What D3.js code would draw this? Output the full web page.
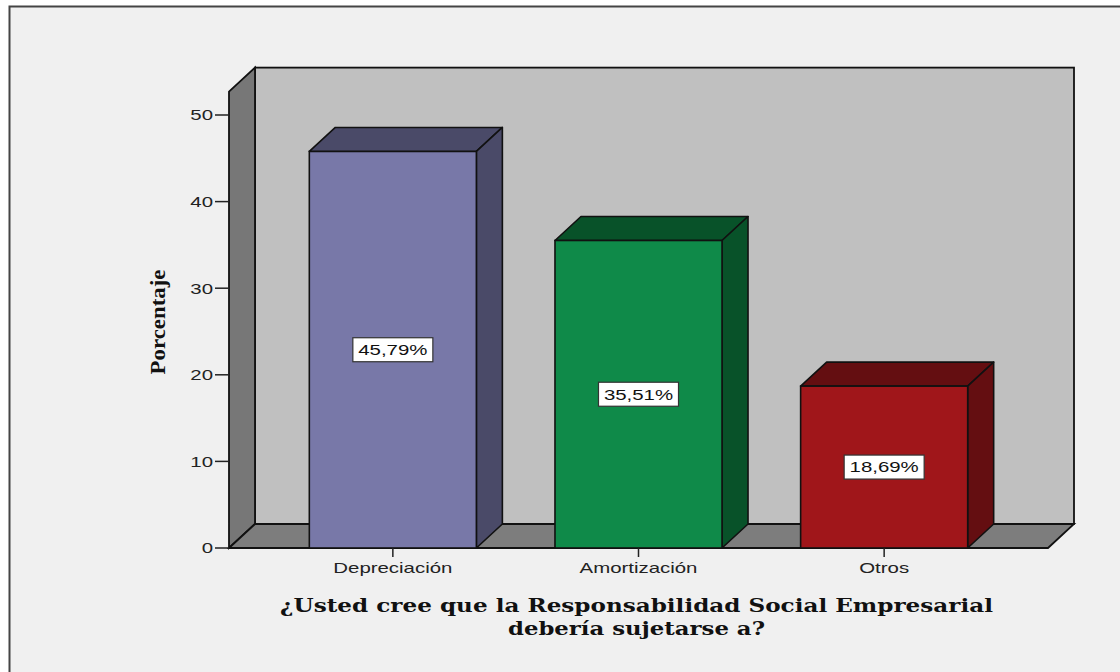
<!DOCTYPE html>
<html>
<head>
<meta charset="utf-8">
<script src="https://cdn.jsdelivr.net/npm/d3@7"></script>
<style>
html,body{margin:0;padding:0;background:#ffffff;}
svg{display:block;}
</style>
</head>
<body>
<svg id="chart" width="1120" height="672"></svg>
<script>
// ---- data ----
const categories = ["Depreciación", "Amortización", "Otros"];
const values = [45.79, 35.51, 18.69];
const valueLabels = ["45,79%", "35,51%", "18,69%"];
const yTicks = [0, 10, 20, 30, 40, 50];
const frontColors = ["#7878a8", "#0f8a49", "#a0161a"];
const darkColors = ["#4a4a68", "#085229", "#640e11"];
const xTitleLines = ["¿Usted cree que la Responsabilidad Social Empresarial", "debería sujetarse a?"];
const yTitle = "Porcentaje";

// ---- layout ----
const svg = d3.select("#chart");
const floorY = 548, left = 229, right = 1048;
const dx = 26, dy = 24;
const wallTopValue = 52.7;
const stretch = 1.36;
const sans = "Liberation Sans, Arial, sans-serif";

function widen(sel) {
  sel.each(function () {
    const w = this.getComputedTextLength();
    d3.select(this).attr("textLength", w * stretch).attr("lengthAdjust", "spacingAndGlyphs");
  });
  return sel;
}

const y = d3.scaleLinear().domain([0, 50]).range([floorY, 115]);
const x = d3.scaleBand().domain(categories).range([left, right])
  .paddingInner(0.32).paddingOuter(0.327);

// outer frame
svg.append("rect").attr("x", 0).attr("y", 0).attr("width", 1120).attr("height", 672).attr("fill", "#ffffff");
svg.append("rect").attr("x", 9.5).attr("y", 6.5).attr("width", 1200).attr("height", 700)
  .attr("fill", "#f0f0f0").attr("stroke", "#444").attr("stroke-width", 2);

const wallTop = y(wallTopValue);
const line = d3.line();

// back wall
svg.append("rect").attr("x", left + dx).attr("y", wallTop - dy)
  .attr("width", right - left).attr("height", floorY - wallTop)
  .attr("fill", "#c0c0c0").attr("stroke", "#111").attr("stroke-width", 1.8);
// left wall
svg.append("path").attr("d", line([[left, wallTop], [left + dx, wallTop - dy], [left + dx, floorY - dy], [left, floorY]]) + "Z")
  .attr("fill", "#777777").attr("stroke", "#111").attr("stroke-width", 1.8);
// floor
svg.append("path").attr("d", line([[left, floorY], [left + dx, floorY - dy], [right + dx, floorY - dy], [right, floorY]]) + "Z")
  .attr("fill", "#7d7d7d").attr("stroke", "#111").attr("stroke-width", 1.8);

// y axis ticks
const yAxis = svg.append("g");
yTicks.forEach(t => {
  yAxis.append("line").attr("x1", left - 14).attr("x2", left).attr("y1", y(t)).attr("y2", y(t))
    .attr("stroke", "#222").attr("stroke-width", 1.5);
  widen(yAxis.append("text").attr("x", left - 16).attr("y", y(t)).attr("dy", "0.36em")
    .attr("text-anchor", "end").attr("font-family", sans)
    .attr("font-size", 15).attr("fill", "#222").text(t));
});

// bars
const bars = svg.append("g");
categories.forEach((c, i) => {
  const x0 = x(c), w = x.bandwidth(), x1 = x0 + w;
  const yt = y(values[i]);
  // top face
  bars.append("path").attr("d", line([[x0, yt], [x0 + dx, yt - dy], [x1 + dx, yt - dy], [x1, yt]]) + "Z")
    .attr("fill", darkColors[i]).attr("stroke", "#111").attr("stroke-width", 1.6).attr("stroke-linejoin", "round");
  // side face
  bars.append("path").attr("d", line([[x1, yt], [x1 + dx, yt - dy], [x1 + dx, floorY - dy], [x1, floorY]]) + "Z")
    .attr("fill", darkColors[i]).attr("stroke", "#111").attr("stroke-width", 1.6).attr("stroke-linejoin", "round");
  // front
  bars.append("rect").attr("x", x0).attr("y", yt).attr("width", w).attr("height", floorY - yt)
    .attr("fill", frontColors[i]).attr("stroke", "#111").attr("stroke-width", 1.6);
  // value label
  const cx = x0 + w / 2, cy = (yt + floorY) / 2;
  bars.append("rect").attr("x", cx - 40).attr("y", cy - 12).attr("width", 80).attr("height", 24)
    .attr("fill", "#ffffff").attr("stroke", "#333").attr("stroke-width", 1.2);
  widen(bars.append("text").attr("x", cx).attr("y", cy).attr("dy", "0.36em").attr("text-anchor", "middle")
    .attr("font-family", sans).attr("font-size", 15).attr("fill", "#111")
    .text(valueLabels[i]));
  // category tick + label
  svg.append("line").attr("x1", cx).attr("x2", cx).attr("y1", floorY).attr("y2", floorY + 9)
    .attr("stroke", "#222").attr("stroke-width", 1.5);
  widen(svg.append("text").attr("x", cx).attr("y", floorY + 25).attr("text-anchor", "middle")
    .attr("font-family", sans).attr("font-size", 15).attr("fill", "#222")
    .text(c));
});

// x title
svg.append("text").attr("x", 636.5).attr("y", 612).attr("text-anchor", "middle")
  .attr("font-family", "DejaVu Serif, serif").attr("font-weight", "bold").attr("font-size", 19)
  .attr("fill", "#111").attr("textLength", 713).attr("lengthAdjust", "spacingAndGlyphs")
  .text(xTitleLines[0]);
svg.append("text").attr("x", 636.5).attr("y", 635).attr("text-anchor", "middle")
  .attr("font-family", "DejaVu Serif, serif").attr("font-weight", "bold").attr("font-size", 19)
  .attr("fill", "#111").attr("textLength", 257).attr("lengthAdjust", "spacingAndGlyphs")
  .text(xTitleLines[1]);

// y title
svg.append("text").attr("transform", "translate(165,322) rotate(-90)").attr("text-anchor", "middle")
  .attr("font-family", "Liberation Serif, Times New Roman, serif").attr("font-weight", "bold").attr("font-size", 21)
  .attr("fill", "#111").attr("textLength", 105).attr("lengthAdjust", "spacingAndGlyphs")
  .text(yTitle);
</script>
</body>
</html>
